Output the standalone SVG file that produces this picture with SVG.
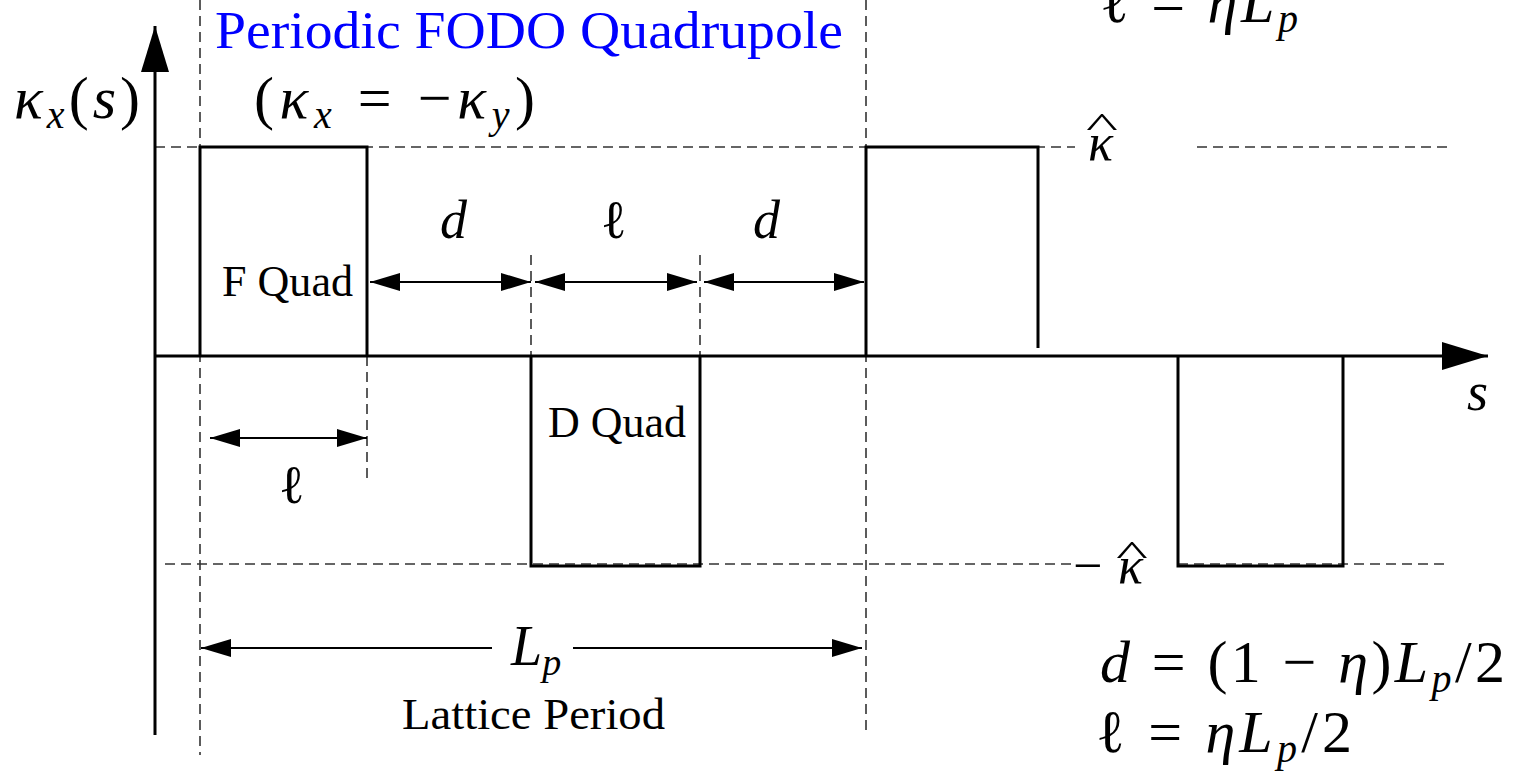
<svg xmlns="http://www.w3.org/2000/svg" width="1513" height="776" viewBox="0 0 1513 776">
<style>
.dash{stroke:#333;stroke-width:1.6;stroke-dasharray:10 6;fill:none}
.solid{stroke:#000;stroke-width:3;fill:none}
.thin{stroke:#000;stroke-width:2;fill:none}
.m{font-family:"Liberation Serif","Times New Roman",serif;fill:#000}
.i{font-style:italic}
.lbl{font-family:"Liberation Serif","Times New Roman",serif;font-size:44px;fill:#000}
</style>
<defs>
<marker id="ah" viewBox="0 0 30 18" refX="30" refY="9" markerWidth="30" markerHeight="18" orient="auto-start-reverse" markerUnits="userSpaceOnUse"><path d="M0,0 L30,9 L0,18 z" fill="#000"/></marker>
<marker id="axh" viewBox="0 0 46 28" refX="46" refY="14" markerWidth="46" markerHeight="28" orient="auto" markerUnits="userSpaceOnUse"><path d="M0,0 L46,14 L0,28 z" fill="#000"/></marker>
</defs>
<rect width="1513" height="776" fill="#fff"/>

<g id="guides">
<line class="dash" x1="200" y1="0" x2="200" y2="755"/>
<line class="dash" x1="866" y1="0" x2="866" y2="732"/>
<line class="dash" x1="367" y1="356" x2="367" y2="482"/>
<line class="dash" x1="531" y1="255" x2="531" y2="356"/>
<line class="dash" x1="700" y1="255" x2="700" y2="356"/>
<line class="dash" x1="155" y1="147" x2="1075" y2="147"/>
<line class="dash" x1="1197" y1="147" x2="1450" y2="147"/>
<line class="dash" x1="165" y1="564" x2="1072" y2="564"/>
<line class="dash" x1="1178" y1="564" x2="1450" y2="564"/>
</g>

<g id="axes">
<line class="solid" x1="155" y1="735" x2="155" y2="26" marker-end="url(#axh)"/>
<line class="solid" x1="155" y1="356" x2="1488" y2="356" marker-end="url(#axh)"/>
</g>

<g id="fquad1">
<path class="solid" d="M200,356 V147 H367 V356"/>
<text class="lbl" x="222" y="296" textLength="131" lengthAdjust="spacingAndGlyphs">F Quad</text>
</g>
<g id="dquad1">
<path class="solid" d="M531,356 V566 H700 V356"/>
<text class="lbl" x="548" y="437" textLength="138" lengthAdjust="spacingAndGlyphs">D Quad</text>
</g>
<g id="fquad2">
<path class="solid" d="M866,356 V147 H1038 V348"/>
</g>
<g id="dquad2">
<path class="solid" d="M1178,356 V566 H1343 V356"/>
</g>

<g id="connectors">
<line class="thin" x1="370" y1="282" x2="531" y2="282" marker-start="url(#ah)" marker-end="url(#ah)"/>
<line class="thin" x1="535" y1="282" x2="697" y2="282" marker-start="url(#ah)" marker-end="url(#ah)"/>
<line class="thin" x1="704" y1="282" x2="864" y2="282" marker-start="url(#ah)" marker-end="url(#ah)"/>
<line class="thin" x1="210" y1="438" x2="367" y2="438" marker-start="url(#ah)" marker-end="url(#ah)"/>
<line class="thin" x1="201" y1="648" x2="492" y2="648" marker-start="url(#ah)"/>
<line class="thin" x1="573" y1="648" x2="862" y2="648" marker-end="url(#ah)"/>
</g>

<g id="labels">
<text x="215" y="48" font-family="'Liberation Serif',serif" font-size="52" fill="#0000ff" textLength="628" lengthAdjust="spacingAndGlyphs">Periodic FODO Quadrupole</text>
<text class="m" x="14" y="118" font-size="60" textLength="126" lengthAdjust="spacing"><tspan class="i">κ</tspan><tspan class="i" font-size="40" dy="10">x</tspan><tspan dy="-10">(</tspan><tspan class="i">s</tspan>)</text>
<text class="m" x="254" y="118" font-size="60" textLength="281" lengthAdjust="spacing">(<tspan class="i">κ</tspan><tspan class="i" font-size="40" dy="10">x</tspan><tspan dy="-10"> = −</tspan><tspan class="i">κ</tspan><tspan class="i" font-size="40" dy="10">y</tspan><tspan dy="-10">)</tspan></text>
<text class="m i" x="440" y="238" font-size="54">d</text>
<text class="m" x="601" y="238" font-size="54">ℓ</text>
<text class="m i" x="753" y="238" font-size="54">d</text>
<text class="m" x="279" y="503" font-size="54">ℓ</text>
<text class="m i" x="511" y="665" font-size="56">L<tspan font-size="38" dy="10">p</tspan></text>
<text class="lbl" x="402" y="729" textLength="263" lengthAdjust="spacingAndGlyphs">Lattice Period</text>
<text class="m i" x="1467" y="410" font-size="54">s</text>
<text class="m i" x="1088" y="160" font-size="52">κ</text>
<text class="m" x="1102" y="136" font-size="34" text-anchor="middle" transform="translate(1102,0) scale(2,1) translate(-1102,0)">^</text>
<text class="m" x="1073" y="583" font-size="52">−</text>
<text class="m i" x="1118" y="583" font-size="52">κ</text>
<text class="m" x="1132" y="564" font-size="34" text-anchor="middle" transform="translate(1132,0) scale(2,1) translate(-1132,0)">^</text>
<text class="m" x="1100" y="22" font-size="60" textLength="198" lengthAdjust="spacing">ℓ = <tspan class="i">η</tspan><tspan class="i">L</tspan><tspan class="i" font-size="40" dy="10">p</tspan></text>
<text class="m" x="1100" y="682" font-size="60" textLength="405" lengthAdjust="spacing"><tspan class="i">d</tspan> = (1 − <tspan class="i">η</tspan>)<tspan class="i">L</tspan><tspan class="i" font-size="40" dy="10">p</tspan><tspan dy="-10">/2</tspan></text>
<text class="m" x="1096" y="752" font-size="60" textLength="256" lengthAdjust="spacing">ℓ = <tspan class="i">η</tspan><tspan class="i">L</tspan><tspan class="i" font-size="40" dy="10">p</tspan><tspan dy="-10">/2</tspan></text>
</g>
</svg>
